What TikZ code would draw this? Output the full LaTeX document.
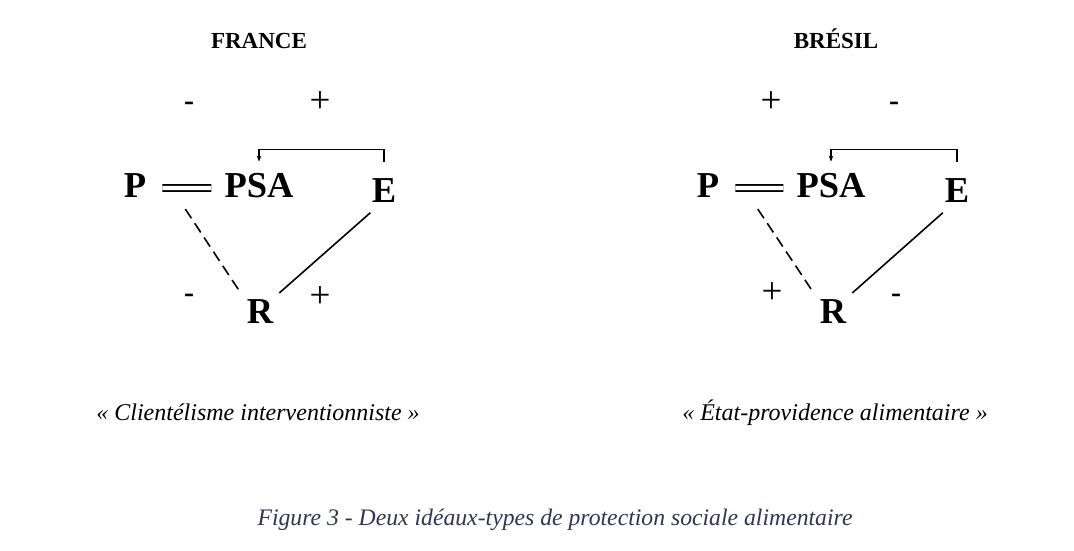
\documentclass[tikz,border=0pt]{standalone}
\usepackage{fontspec}
\setmainfont{Liberation Serif}
\usetikzlibrary{arrows.meta}
\definecolor{capblue}{RGB}{45,55,85}
\tikzset{
	pole/.style={font=\fontsize{36.5}{40}\selectfont\bfseries, inner sep=0pt, anchor=base},
	title/.style={font=\fontsize{23}{26}\selectfont\bfseries, anchor=base},
	sgnplus/.style={font=\fontsize{37}{40}\selectfont, inner sep=0pt},
	sgnminus/.style={font=\fontsize{30}{32}\selectfont\bfseries, inner sep=0pt},
	sub/.style={font=\fontsize{24}{28}\selectfont\itshape, anchor=base},
	figcap/.style={font=\fontsize{23.7}{28}\selectfont\itshape, text=capblue, anchor=base},
	dbl/.style={double, double distance=4.2pt, line width=1.8pt, shorten <=16pt, shorten >=13pt},
	dsh/.style={line width=1.6pt, dash pattern=on 11pt off 6pt},
	lnk/.style={line width=1.6pt},
	fb/.style={line width=1.6pt, -{Stealth[length=6pt,width=4.5pt]}}
}

\begin{document}
\begin{tikzpicture}[x=1pt,y=-1pt]
		%%%%% START %%%%%
		\useasboundingbox (0,0) rectangle (1074,550);
		
		% France
		\node[title] (tFR) at (259,48) {FRANCE};
		\node[sgnminus] (mFRa) at (189,106) {-};
		\node[sgnplus] (pFRa) at (320,102) {+};
		
		\node[pole] (PFR) at (135,197) {P};
		\node[pole] (PSAFR) at (259,197) {PSA};
		\node[pole, inner sep=10.5pt] (EFR) at (384,202) {E};
		\node[pole, inner sep=6pt] (RFR) at (260,323) {R};
		
		\node[sgnminus] (mFRb) at (189,298) {-};
		\node[sgnplus] (pFRb) at (320,297) {+};
		
		\draw[dbl] ([yshift=-3pt]PFR.east) -- coordinate[midway] (lFR) ([yshift=-3pt]PSAFR.west);
		\draw[dsh] ([yshift=-21pt]lFR) -- (RFR.north west);
		\draw[lnk] (EFR.239) -- (RFR.north east);
		\draw[fb] ([yshift=5pt]EFR.north) -- ++(0,-13) -| ([yshift=11pt]PSAFR.north);
		
		\node[sub] (sFR) at (258,420) {« Clientélisme interventionniste »};
		
		% Bresil
		\node[title] (tBR) at (836,48) {BRÉSIL};
		\node[sgnplus] (pBRa) at (771,102) {+};
		\node[sgnminus] (mBRa) at (894,106) {-};
		
		\node[pole] (PBR) at (708,197) {P};
		\node[pole] (PSABR) at (831,197) {PSA};
		\node[pole, inner sep=10.5pt] (EBR) at (957,202) {E};
		\node[pole, inner sep=6pt] (RBR) at (833,323) {R};
		
		\node[sgnplus] (pBRb) at (772,293) {+};
		\node[sgnminus] (mBRb) at (896,298) {-};
		
		\draw[dbl] ([yshift=-3pt]PBR.east) -- coordinate[midway] (lBR) ([yshift=-3pt]PSABR.west);
		\draw[dsh] ([yshift=-21pt]lBR) -- (RBR.north west);
		\draw[lnk] (EBR.238) -- (RBR.north east);
		\draw[fb] ([yshift=5pt]EBR.north) -- ++(0,-13) -| ([yshift=11pt]PSABR.north);
		
		\node[sub] (sBR) at (835,420) {« État-providence alimentaire »};
		
		% legende
		\node[figcap] (figcap) at (555,525) {Figure 3 - Deux idéaux-types de protection sociale alimentaire};
		
		%%%%% END %%%%%
\end{tikzpicture}
\end{document}
